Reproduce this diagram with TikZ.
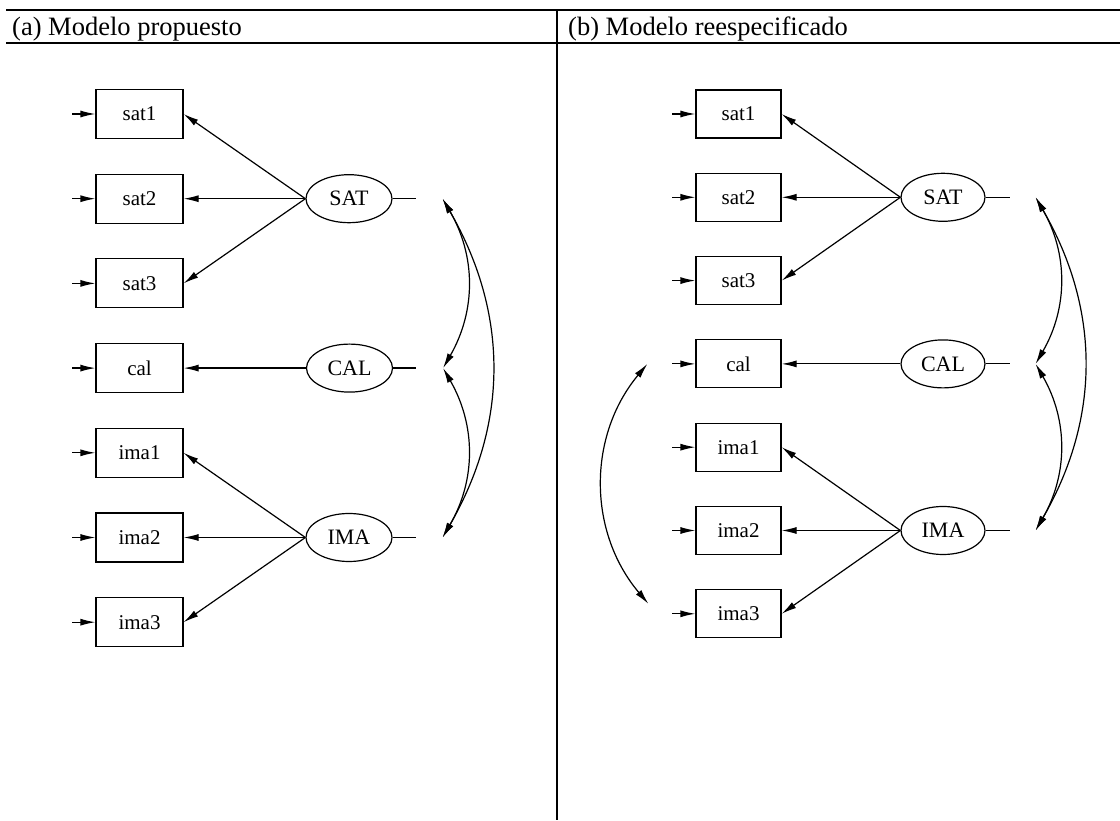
\documentclass[tikz,border=0pt]{standalone}
\usepackage{fontspec}
\setmainfont{Liberation Serif}
\usetikzlibrary{positioning, arrows.meta, shapes.geometric}

\begin{document}
\begin{tikzpicture}
	[x=1pt, y=1pt,
	 boxnode/.style = {draw, rectangle, line width=1.2pt, minimum width=87pt, minimum height=49pt, inner sep=0pt, font=\fontsize{21}{25}\selectfont},
	 latnode/.style = {draw, ellipse, line width=1.2pt, minimum width=86pt, minimum height=48pt, inner sep=0pt, font=\fontsize{22}{26}\selectfont},
	 loading/.style = {line width=1.2pt, -{Latex[length=15pt, width=7pt]}},
	 errarr/.style = {line width=1.2pt, -{Latex[length=15pt, width=7pt]}},
	 covarr/.style = {line width=1.2pt, {Latex[length=15pt, width=7pt]}-{Latex[length=15pt, width=7pt]}},
	 hline/.style = {line width=2.4pt},
	 head/.style = {anchor=base west, inner sep=0pt, font=\fontsize{26.5}{30}\selectfont},
	 node distance=84.7pt, on grid]
	\useasboundingbox (0,0) rectangle (1120,820);

	% frame and titles
	\draw[hline] (6,810) -- (1120,810);
	\draw[hline] (6,777) -- (1120,777);
	\draw[hline] (557,810) -- (557,0);
	\node[head] (ha) at (12,784) {(a) Modelo propuesto};
	\node[head] (hb) at (568,784) {(b) Modelo reespecificado};

	% (a) proposed model
	\node[boxnode] (sat1) at (139.5,706) {sat1};
	\node[boxnode, below=of sat1] (sat2) {sat2};
	\node[boxnode, below=of sat2] (sat3) {sat3};
	\node[boxnode, below=of sat3] (cal) {cal};
	\node[boxnode, below=of cal] (ima1) {ima1};
	\node[boxnode, below=of ima1] (ima2) {ima2};
	\node[boxnode, below=of ima2] (ima3) {ima3};
	\node[latnode, right=209.5pt of sat2] (SAT) {SAT};
	\node[latnode, right=210pt of cal] (CAL) {CAL};
	\node[latnode, right=209.5pt of ima2] (IMA) {IMA};

	\foreach \n in {sat1,sat2,sat3,cal,ima1,ima2,ima3}
		\draw[errarr] ([xshift=-23pt]\n.west) -- (\n);
	\foreach \n in {sat1,sat2,sat3}
		\draw[loading] (SAT.west) -- (\n.east);
	\draw[loading] (CAL) -- (cal);
	\foreach \n in {ima1,ima2,ima3}
		\draw[loading] (IMA.west) -- (\n.east);
	\foreach \n in {SAT,CAL,IMA} {
		\draw[line width=1.2pt] (\n.east) -- ++(23,0);
		\coordinate (c\n) at ([xshift=50pt]\n.east);
	}
	\draw[covarr] (cSAT) to[bend left=30] (cCAL);
	\draw[covarr] (cCAL) to[bend left=30] (cIMA);
	\draw[covarr] (cSAT) to[bend left=30] (cIMA);

	% (b) respecified model
	\begin{scope}[boxnode/.append style={minimum width=85pt, minimum height=48pt},
		latnode/.append style={minimum width=84pt}, node distance=83.3pt]
		\node[boxnode] (rsat1) at (738.5,706) {sat1};
		\node[boxnode, below=of rsat1] (rsat2) {sat2};
		\node[boxnode, below=of rsat2] (rsat3) {sat3};
		\node[boxnode, below=of rsat3] (rcal) {cal};
		\node[boxnode, below=of rcal] (rima1) {ima1};
		\node[boxnode, below=of rima1] (rima2) {ima2};
		\node[boxnode, below=of rima2] (rima3) {ima3};
		\node[latnode, right=204.5pt of rsat2] (rSAT) {SAT};
		\node[latnode, right=204.5pt of rcal] (rCAL) {CAL};
		\node[latnode, right=204.5pt of rima2] (rIMA) {IMA};

		\foreach \n in {rsat1,rsat2,rsat3,rcal,rima1,rima2,rima3}
			\draw[errarr] ([xshift=-23pt]\n.west) -- (\n);
		\foreach \n in {rsat1,rsat2,rsat3}
			\draw[loading] (rSAT.west) -- (\n.east);
		\draw[loading] (rCAL) -- (rcal);
		\foreach \n in {rima1,rima2,rima3}
			\draw[loading] (rIMA.west) -- (\n.east);
		\foreach \n in {rSAT,rCAL,rIMA} {
			\draw[line width=1.2pt] (\n.east) -- ++(24,0);
			\coordinate (c\n) at ([xshift=50pt]\n.east);
		}
		\draw[covarr] (crSAT) to[bend left=30] (crCAL);
		\draw[covarr] (crCAL) to[bend left=30] (crIMA);
		\draw[covarr] (crSAT) to[bend left=30] (crIMA);

		% error covariance cal -- ima3
		\coordinate (ercal) at ([xshift=-48pt]rcal.west);
		\coordinate (erima3) at ([xshift=-47pt, yshift=10pt]rima3.west);
		\draw[covarr] (ercal) to[bend right=40] (erima3);
	\end{scope}
\end{tikzpicture}
\end{document}
